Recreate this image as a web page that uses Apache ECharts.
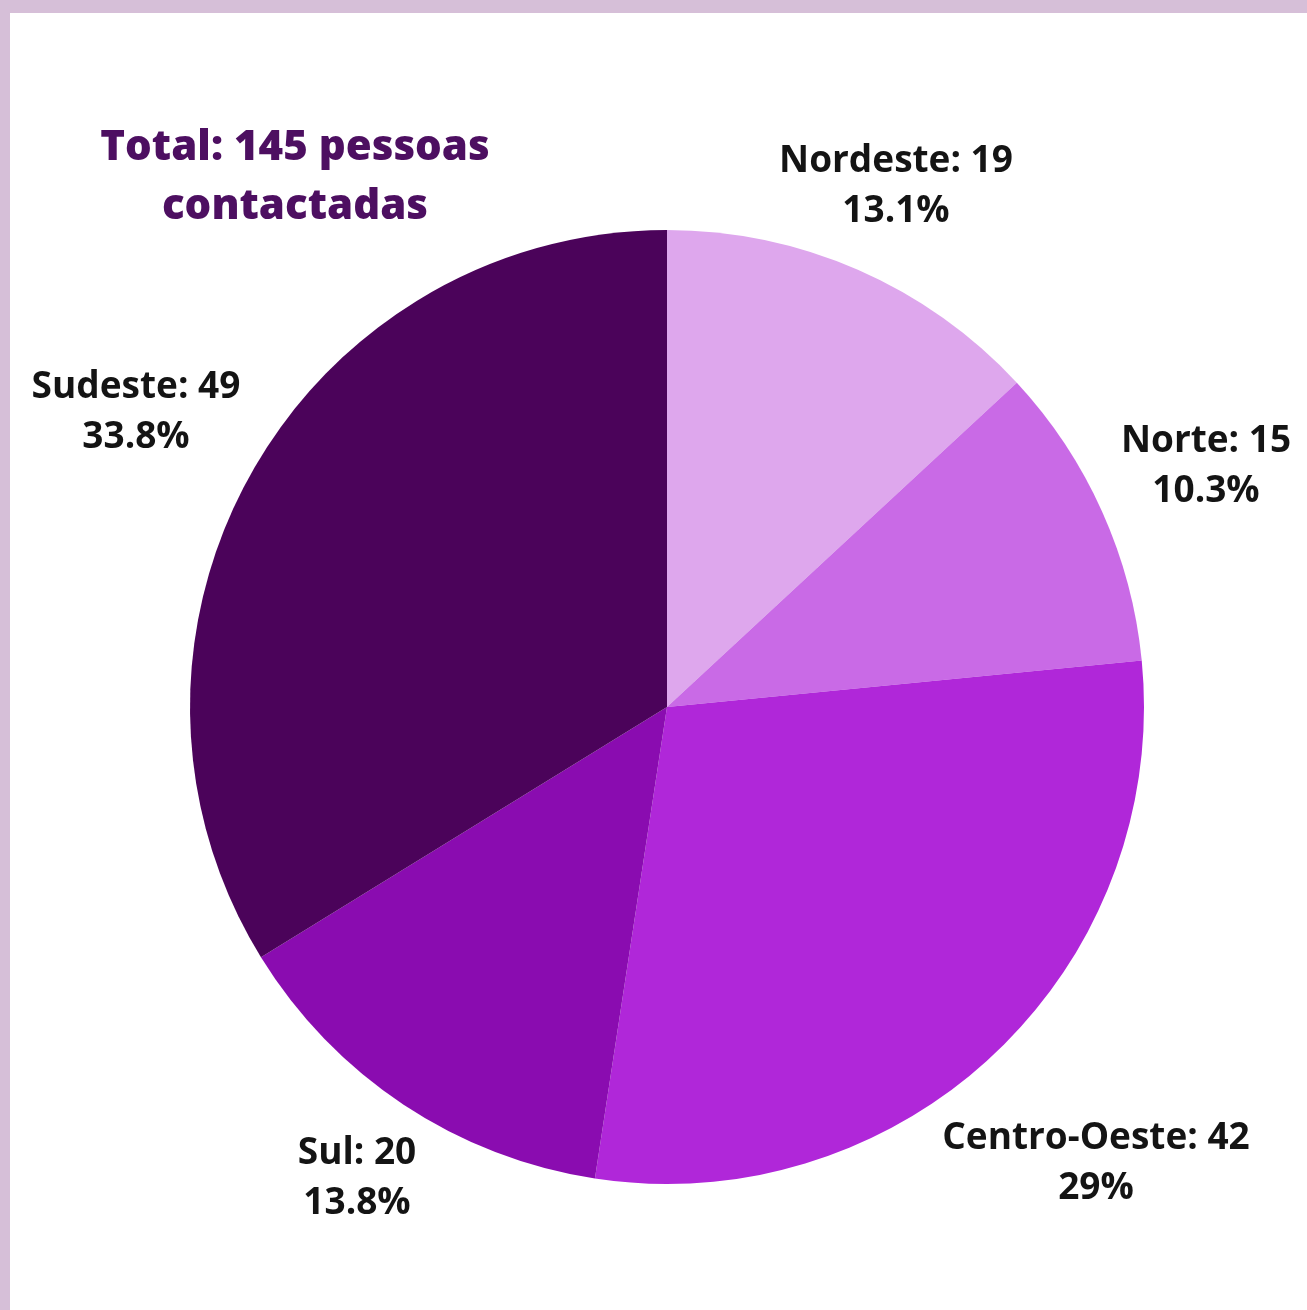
<!DOCTYPE html>
<html>
<head>
<meta charset="utf-8">
<script src="https://cdn.jsdelivr.net/npm/echarts@6/dist/echarts.min.js"></script>
<style>
html,body{margin:0;padding:0;background:#d6bfd8;}
#chart{width:1307px;height:1310px;}
</style>
</head>
<body>
<div id="chart"></div>
<script>
const categories = ['Nordeste', 'Norte', 'Centro-Oeste', 'Sul', 'Sudeste'];
const values = [19, 15, 42, 20, 49];
const colors = ['#dea7ed', '#c96ae6', '#b027d9', '#8a0cb0', '#4b035a'];
const titleText = 'Total: 145 pessoas\ncontactadas';
const labelPos = [[896, 186], [1206, 466], [1096, 1163], [357, 1178], [136, 412]];

const total = values.reduce((a, b) => a + b, 0);
const chart = echarts.init(document.getElementById('chart'));
chart.setOption({
  backgroundColor: '#d6bfd8',
  animation: false,
  graphic: [{
    type: 'rect', z: -10, silent: true,
    shape: { x: 10, y: 13, width: 1297, height: 1297 },
    style: { fill: '#ffffff' }
  }],
  title: {
    text: titleText,
    left: 290, top: 114,
    textAlign: 'center',
    textStyle: {
      fontFamily: 'Open Sans', fontWeight: 800, fontSize: 42,
      lineHeight: 59, color: '#4d0f61'
    }
  },
  series: [{
    type: 'pie',
    center: [667, 707],
    radius: 477,
    startAngle: 90,
    clockwise: true,
    data: categories.map((c, i) => ({ name: c, value: values[i], itemStyle: { color: colors[i] } })),
    label: {
      show: true,
      position: 'outside',
      overflow: 'none',
      formatter: p => {
        const pct = Number((p.value / total * 100).toFixed(1));
        return p.name + ': ' + p.value + '\n' + pct + '%';
      },
      fontFamily: 'Open Sans', fontWeight: 'bold', fontSize: 37,
      lineHeight: 50, color: '#141414', align: 'center'
    },
    labelLine: { show: false },
    labelLayout: params => ({
      x: labelPos[params.dataIndex][0],
      y: labelPos[params.dataIndex][1],
      align: 'center',
      verticalAlign: 'middle'
    }),
    emphasis: { disabled: true }
  }]
});
</script>
</body>
</html>
